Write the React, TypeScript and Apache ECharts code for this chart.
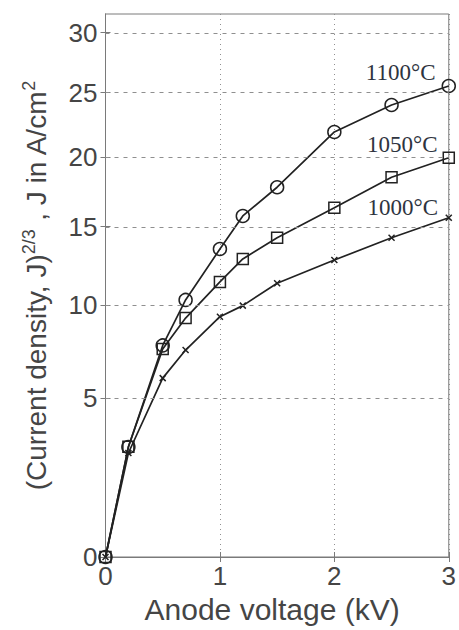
import { useEffect, useRef } from 'react';
import * as echarts from 'echarts';

// Anode voltage (kV)
const voltages = [0, 0.2, 0.5, 0.7, 1.0, 1.2, 1.5, 2.0, 2.5, 3.0];
// Current density J (A/cm^2), plotted as J^(2/3)
const j1100 = [0, 2.88, 7.69, 10.3, 13.51, 15.74, 17.77, 21.9, 24.02, 25.55];
const j1050 = [0, 2.89, 7.5, 9.23, 11.4, 12.86, 14.26, 16.32, 18.49, 19.94];
const j1000 = [0, 2.65, 5.98, 7.44, 9.31, 9.96, 11.32, 12.79, 14.26, 15.62];
const seriesNames = ['1100°C', '1050°C', '1000°C'];
const yTickLabels = [0, 5, 10, 15, 20, 25, 30];
const xTicks = [0, 1, 2, 3];

const tr = (j: number) => Math.pow(j, 2 / 3);

const LINE = '#222222';
const AX = '#7a7a7a';
const GRID = '#8f8f8f';
const TXT = '#454545';
const SANS = '"Liberation Sans", Arial, sans-serif';
const SERIF = '"Liberation Serif", "Times New Roman", serif';

function makeSeries(name: string, vals: number[], symbol: string, size: number, labelOffset: number[]) {
  const n = vals.length;
  return {
    type: 'line',
    name,
    z: 3,
    symbol,
    symbolSize: size,
    showAllSymbol: true,
    lineStyle: { color: LINE, width: 1.7 },
    itemStyle: { color: 'rgba(0,0,0,0)', borderColor: LINE, borderWidth: 1.5 },
    data: vals.map((j, i) => {
      const item: any = { value: [voltages[i], tr(j)] };
      if (i === n - 1) {
        item.label = {
          show: true,
          formatter: name,
          position: 'left',
          offset: labelOffset,
          fontFamily: SERIF,
          fontSize: 23,
          color: '#2e3440',
        };
      }
      return item;
    }),
  };
}

export default function App() {
  const ref = useRef<HTMLDivElement>(null);
  useEffect(() => {
    if (!ref.current) return;
    const chart = echarts.init(ref.current, null, { renderer: 'svg' });
    const yCustom = yTickLabels.map(tr);
    const option: any = {
      animation: false,
      backgroundColor: '#ffffff',
      grid: {
        left: 105.5,
        right: 9,
        top: 14,
        bottom: 73,
        show: true,
        borderColor: AX,
        borderWidth: 1,
        backgroundColor: 'transparent',
      },
      xAxis: [
        {
          type: 'value',
          min: 0,
          max: 3,
          interval: 1,
          position: 'bottom',
          name: 'Anode voltage (kV)',
          nameLocation: 'middle',
          nameGap: 37,
          nameTextStyle: { fontFamily: SANS, fontSize: 30, color: TXT, padding: [0, 10, 0, 0] },
          axisLine: { show: true, lineStyle: { color: AX, width: 1 } },
          axisTick: { show: true, inside: true, length: 5, lineStyle: { color: AX } },
          axisLabel: {
            fontFamily: SANS,
            fontSize: 26,
            color: TXT,
            margin: 6,
            formatter: (v: number) => String(xTicks.find((t) => Math.abs(t - v) < 1e-6) ?? ''),
          },
          splitLine: { show: true, lineStyle: { color: GRID, width: 1, type: [1, 4] } },
        },
        {
          type: 'value',
          min: 0,
          max: 3,
          interval: 1,
          position: 'top',
          axisLine: { show: true, lineStyle: { color: AX, width: 1 } },
          axisTick: { show: true, inside: true, length: 5, lineStyle: { color: AX } },
          axisLabel: { show: false },
          splitLine: { show: false },
        },
      ],
      yAxis: [
        {
          type: 'value',
          min: 0,
          max: 10,
          position: 'left',
          name: '(Current density, J){s|2/3} , J in A/cm{s|2}',
          nameLocation: 'middle',
          nameRotate: 90,
          nameGap: 52,
          nameTextStyle: {
            fontFamily: SANS,
            fontSize: 28,
            color: TXT,
            lineHeight: 34,
            verticalAlign: 'bottom',
            rich: {
              s: { fontFamily: SANS, fontSize: 18, color: TXT, lineHeight: 18, verticalAlign: 'top' },
            },
          },
          axisLine: { show: true, lineStyle: { color: AX, width: 1 } },
          axisTick: { show: true, inside: true, length: 5, customValues: yCustom, lineStyle: { color: AX } },
          axisLabel: {
            fontFamily: SANS,
            fontSize: 26,
            color: TXT,
            margin: 8,
            customValues: yCustom,
            formatter: (v: number) => String(Math.round(Math.pow(v, 1.5))),
          },
          splitLine: { show: false },
        },
        {
          type: 'value',
          min: 0,
          max: 10,
          position: 'right',
          axisLine: { show: true, lineStyle: { color: AX, width: 1 } },
          axisTick: { show: true, inside: true, length: 5, customValues: yCustom, lineStyle: { color: AX } },
          axisLabel: { show: false },
          splitLine: { show: false },
        },
      ],
      series: [
        {
          type: 'line',
          name: 'grid',
          z: 1,
          silent: true,
          symbol: 'none',
          lineStyle: { width: 0 },
          data: [[0, 0]],
          markLine: {
            silent: true,
            symbol: 'none',
            label: { show: false },
            lineStyle: { color: GRID, width: 1, type: [4, 5] },
            data: yTickLabels.filter((j) => j > 0).map((j) => ({ yAxis: tr(j) })),
          },
        },
        makeSeries(seriesNames[0], j1100, 'circle', 13, [-1, -13]),
        makeSeries(seriesNames[1], j1050, 'rect', 11, [0, -13]),
        makeSeries(seriesNames[2], j1000, 'path://M0,0L10,10M10,0L0,10', 6, [-2, -10]),
      ],
    };
    chart.setOption(option);
    return () => chart.dispose();
  }, []);
  return (
    <div
      ref={ref}
      style={{ position: 'fixed', left: 0, top: 0, width: 459, height: 630 }}
    />
  );
}
